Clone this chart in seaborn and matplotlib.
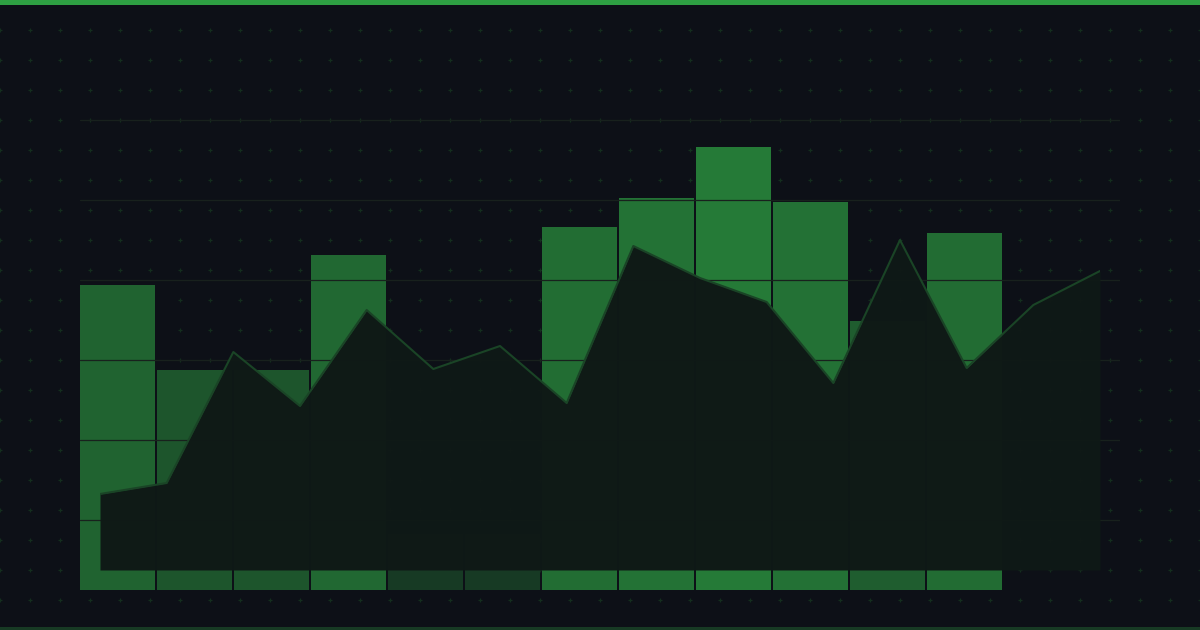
import numpy as np
import pandas as pd
import seaborn as sns
import matplotlib.pyplot as plt
import matplotlib.colors as mcolors

# data
months = ["Jan", "Feb", "Mar", "Apr", "May", "Jun",
          "Jul", "Aug", "Sep", "Oct", "Nov", "Dec"]
bar_values = [76.25, 55, 55, 83.75, 14, 14, 90.75, 98, 110.75, 97, 67.25, 89.25]
trend_steps = list(range(16))
trend_values = [19, 21.75, 54.5, 41, 65, 50.25, 56, 41.75,
                81, 73, 67, 46.75, 82.5, 50.5, 66.25, 74.75]
grid_levels = [17.5, 37.5, 57.5, 77.5, 97.5, 117.5]

BG = "#0d1017"
GREEN = "#2ea043"

sns.set_style("dark")
W, H = 1200, 630
fig = plt.figure(figsize=(W / 100, H / 100), dpi=100)
fig.patch.set_facecolor(BG)


def px_axes(x0, y0, x1, y1, z):
    # axes placed by pixel box (top-left origin)
    ax = fig.add_axes([x0 / W, 1 - y1 / H, (x1 - x0) / W, (y1 - y0) / H], zorder=z)
    ax.patch.set_alpha(0)
    for s in ax.spines.values():
        s.set_visible(False)
    ax.set_xticks([])
    ax.set_yticks([])
    ax.set_xlabel("")
    ax.set_ylabel("")
    ax.grid(False)
    return ax


# background decoration: dot grid, top stripe, bottom rule
ax_bg = px_axes(0, 0, W, H, 0)
ax_bg.set_xlim(0, W)
ax_bg.set_ylim(H, 0)
gx, gy = np.meshgrid(np.arange(0, W + 1, 30), np.arange(30, H, 30))
ax_bg.scatter(gx.ravel(), gy.ravel(), marker="+", s=10, linewidths=0.85,
              color="#142e1e", zorder=1)
ax_bg.axhspan(0, 5, color=GREEN, lw=0, zorder=2)
ax_bg.axhspan(627, 630, color="#173a24", lw=0, zorder=2)

# bars
ax_bar = px_axes(80, 100, 1120, 590, 1)
bg_rgb = np.array(mcolors.to_rgb(BG))
gr_rgb = np.array(mcolors.to_rgb(GREEN))
bar_colors = [tuple(bg_rgb + (gr_rgb - bg_rgb) * (0.227 + 0.0046 * v)) for v in bar_values]
df = pd.DataFrame({"month": months, "value": bar_values})
sns.barplot(data=df, x="month", y="value", hue="month", palette=bar_colors,
            legend=False, width=0.974, saturation=1, linewidth=0, ax=ax_bar)
ax_bar.set_xlim(-0.487, 13.019)
ax_bar.set_ylim(0, 122.5)
for lv in grid_levels:
    ax_bar.axhline(lv, color="#18211d", lw=0.9, zorder=5)
for s in ax_bar.spines.values():
    s.set_visible(False)
ax_bar.set_xticks([])
ax_bar.set_yticks([])
ax_bar.set_xlabel("")
ax_bar.set_ylabel("")

# trend area
ax_area = px_axes(100, 100, 1100, 570, 2)
ax_area.fill_between(trend_steps, 0, trend_values, color="#0f1916", alpha=0.985, lw=0)
sns.lineplot(x=trend_steps, y=trend_values, color="#1a4426", lw=1.5, ax=ax_area)
ax_area.set_xlim(0, 15)
ax_area.set_ylim(0, 117.5)
ax_area.set_xticks([])
ax_area.set_yticks([])
ax_area.set_xlabel("")
ax_area.set_ylabel("")

fig.savefig("out.png", dpi=100, facecolor=BG)
plt.close(fig)
